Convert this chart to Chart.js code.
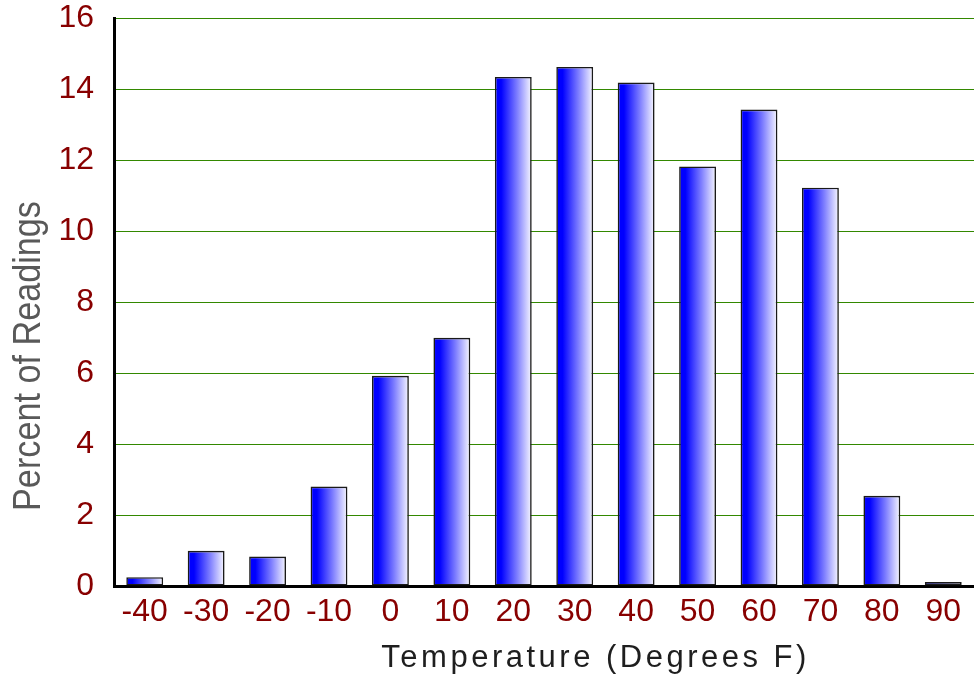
<!DOCTYPE html>
<html>
<head>
<meta charset="utf-8">
<script src="https://cdn.jsdelivr.net/npm/chart.js@4.4.1/dist/chart.umd.min.js"></script>
<style>
  html, body { margin: 0; padding: 0; background: #fff; }
  canvas { display: block; }
</style>
</head>
<body>
<canvas id="chart" width="974" height="677"></canvas>
<script>
// 温度分布数据
const temperatures = ['-40', '-30', '-20', '-10', '0', '10', '20', '30', '40', '50', '60', '70', '80', '90'];
const percentReadings = [0.25, 0.99, 0.83, 2.8, 5.92, 6.99, 14.34, 14.62, 14.18, 11.82, 13.42, 11.22, 2.54, 0.11];
const yTicks = [0, 2, 4, 6, 8, 10, 12, 14, 16];
const xTitle = 'Temperature (Degrees F)';
const yTitle = 'Percent of Readings';

const BAR_PCT = 0.6;

// 每根柱子从左到右：蓝 -> 白
const barGradient = (context) => {
    const chart = context.chart;
    const xScale = chart.scales.x;
    if (!chart.chartArea || !xScale) return '#0000ff';
    const center = xScale.getPixelForValue(context.dataIndex);
    const half = (chart.chartArea.width / temperatures.length) * BAR_PCT / 2;
    const g = chart.ctx.createLinearGradient(center - half, 0, center + half, 0);
    g.addColorStop(0, '#0000ff');
    g.addColorStop(0.17, '#0000ff');
    g.addColorStop(0.6, '#7d7dff');
    g.addColorStop(1, '#f8f8ff');
    return g;
};

// 坐标轴标题（x 带字间距，y 为窄体）
const axisTitles = {
    id: 'axisTitles',
    afterDraw(chart) {
        const ctx = chart.ctx;
        const area = chart.chartArea;
        ctx.save();
        ctx.textAlign = 'center';
        ctx.textBaseline = 'middle';
        ctx.fillStyle = '#1e1e1e';
        ctx.font = '31px "Liberation Sans", Arial, sans-serif';
        ctx.letterSpacing = '3.5px';
        ctx.fillText(xTitle, area.left + area.width * 0.56, chart.height - 19);
        ctx.restore();

        ctx.save();
        ctx.fillStyle = '#595959';
        ctx.font = '38px "Liberation Sans", Arial, sans-serif';
        ctx.textAlign = 'center';
        ctx.textBaseline = 'middle';
        ctx.translate(30, (area.top + area.bottom) / 2 + 54);
        ctx.rotate(-Math.PI / 2);
        ctx.scale(0.9, 1);
        ctx.fillText(yTitle, 0, 0);
        ctx.restore();
    }
};

new Chart(document.getElementById('chart'), {
    type: 'bar',
    data: {
        labels: temperatures,
        datasets: [{
            data: percentReadings,
            backgroundColor: barGradient,
            borderColor: '#1a1a1a',
            borderWidth: 1.6,
            borderSkipped: false,
            categoryPercentage: 1,
            barPercentage: BAR_PCT
        }]
    },
    options: {
        responsive: false,
        animation: false,
        layout: {
            padding: 0
        },
        scales: {
            x: {
                afterFit: (scale) => { scale.height = 91; },
                grid: { display: false, drawTicks: false },
                border: { display: true, color: '#000', width: 3 },
                ticks: {
                    color: '#880000',
                    padding: 7,
                    maxRotation: 0,
                    font: { family: '"Liberation Sans", Arial, sans-serif', size: 32 }
                }
            },
            y: {
                min: 0,
                max: 16,
                afterFit: (scale) => {
                    scale.width = 114;
                    scale.paddingTop = 18;
                    scale.paddingBottom = 0;
                },
                afterBuildTicks: (scale) => { scale.ticks = yTicks.map(v => ({ value: v })); },
                grid: { color: '#338800', lineWidth: 1, drawTicks: false },
                border: { display: true, color: '#000', width: 3 },
                ticks: {
                    color: '#880000',
                    padding: 20,
                    font: { family: '"Liberation Sans", Arial, sans-serif', size: 32, lineHeight: 1.1 }
                }
            }
        },
        plugins: {
            legend: { display: false },
            tooltip: { enabled: false },
            title: { display: false }
        }
    },
    plugins: [axisTitles]
});
</script>
</body>
</html>
